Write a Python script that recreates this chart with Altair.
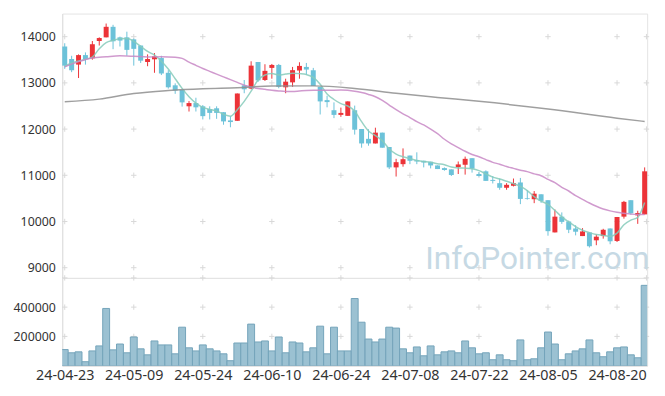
import altair as alt
import pandas as pd

# ---------------- data ----------------
dates = [
    "24-04-23", "24-04-24", "24-04-25", "24-04-26", "24-04-29", "24-04-30", "24-05-02", "24-05-03",
    "24-05-07", "24-05-08", "24-05-09", "24-05-10", "24-05-13", "24-05-14", "24-05-16", "24-05-17",
    "24-05-20", "24-05-21", "24-05-22", "24-05-23", "24-05-24", "24-05-27", "24-05-28", "24-05-29",
    "24-05-30", "24-05-31", "24-06-03", "24-06-04", "24-06-05", "24-06-07", "24-06-10", "24-06-11",
    "24-06-12", "24-06-13", "24-06-14", "24-06-17", "24-06-18", "24-06-19", "24-06-20", "24-06-21",
    "24-06-24", "24-06-25", "24-06-26", "24-06-27", "24-06-28", "24-07-01", "24-07-02", "24-07-03",
    "24-07-04", "24-07-05", "24-07-08", "24-07-09", "24-07-10", "24-07-11", "24-07-12", "24-07-15",
    "24-07-16", "24-07-17", "24-07-18", "24-07-19", "24-07-22", "24-07-23", "24-07-24", "24-07-25",
    "24-07-26", "24-07-29", "24-07-30", "24-07-31", "24-08-01", "24-08-02", "24-08-05", "24-08-06",
    "24-08-07", "24-08-08", "24-08-09", "24-08-12", "24-08-13", "24-08-14", "24-08-16", "24-08-19",
    "24-08-20", "24-08-21", "24-08-22", "24-08-23", "24-08-26",
]

opens = [
    13787, 13516, 13395, 13601, 13531, 13906, 13985, 14213, 13985, 13985,
    13942, 13808, 13452, 13510, 13537, 13218, 12947, 12849, 12493, 12563,
    12493, 12435, 12450, 12365, 12188, 12179, 12947, 12876, 13452, 13062,
    13324, 13388, 12904, 13011, 13267, 13345, 13275, 12913, 12627, 12408,
    12307, 12286, 12408, 12002, 11789, 11689, 11923, 11612, 11171, 11241,
    11427, 11327, 11314, 11292, 11213, 11156, 11128, 11177, 11228, 11370,
    11028, 11086, 10900, 10830, 10730, 10773, 10845, 10504, 10482, 10589,
    10461, 9764, 10105, 10000, 9849, 9685, 9764, 9593, 9685, 9849,
    9579, 10105, 10461, 10133, 10154,
]
highs = [
    13857, 13586, 13616, 13659, 13906, 13985, 14284, 14256, 14000, 14107,
    13960, 13808, 13616, 13644, 13586, 13275, 12990, 12849, 12606, 12678,
    12520, 12493, 12493, 12365, 12280, 12770, 13062, 13467, 13452, 13403,
    13409, 13409, 13090, 13345, 13446, 13431, 13324, 12913, 12721, 12578,
    12465, 12599, 12508, 12002, 11996, 12030, 11923, 11612, 11356, 11582,
    11427, 11497, 11314, 11292, 11213, 11170, 11128, 11299, 11405, 11370,
    11071, 11107, 10985, 10930, 10830, 10930, 10943, 10674, 10659, 10589,
    10461, 10260, 10197, 10020, 9920, 9856, 9764, 9721, 9842, 9849,
    10098, 10446, 10461, 10233, 11171,
]
lows = [
    13303, 13232, 13105, 13395, 13501, 13808, 13985, 13729, 13787, 13586,
    13373, 13431, 13360, 13218, 13169, 12876, 12763, 12486, 12380, 12380,
    12209, 12209, 12222, 12094, 12039, 12179, 12776, 12861, 13019, 13041,
    13090, 12883, 12776, 12913, 13090, 13175, 12934, 12316, 12471, 12237,
    12265, 12286, 11881, 11597, 11640, 11689, 11597, 11135, 10973, 11186,
    11241, 11241, 11171, 11149, 11135, 11100, 10985, 11028, 11015, 11058,
    10973, 10879, 10823, 10687, 10687, 10759, 10376, 10474, 10397, 10404,
    9693, 9764, 9949, 9749, 9700, 9685, 9437, 9487, 9629, 9508,
    9557, 10062, 10147, 9949, 10154,
]
closes = [
    13373, 13275, 13601, 13516, 13836, 13970, 14213, 13900, 13915, 13714,
    13736, 13480, 13516, 13574, 13203, 12904, 12834, 12578, 12563, 12471,
    12280, 12350, 12350, 12166, 12152, 12770, 12861, 13373, 13053, 13260,
    13388, 12913, 13026, 13275, 13367, 13288, 12934, 12599, 12584, 12307,
    12350, 12599, 11987, 11689, 11689, 11923, 11597, 11171, 11284, 11348,
    11314, 11299, 11277, 11213, 11135, 11114, 11007, 11235, 11356, 11143,
    10985, 10879, 10879, 10730, 10794, 10830, 10489, 10489, 10602, 10446,
    9791, 10105, 9992, 9821, 9779, 9785, 9465, 9672, 9821, 9572,
    10098, 10425, 10175, 10184, 11086,
]
volumes = [
    110000, 88000, 94500, 27000, 101000, 135000, 391000, 108000, 148000, 88000,
    196000, 115000, 74000, 169000, 142000, 142000, 81000, 263000, 122000, 101000,
    142000, 115000, 101000, 81000, 34000, 155000, 155000, 284000, 162000, 169000,
    101000, 196000, 88000, 162000, 155000, 94500, 122000, 270000, 81000, 263000,
    101000, 101000, 459000, 297000, 182000, 162000, 182000, 263000, 257000, 115000,
    88000, 128000, 67500, 135000, 74000, 94500, 101000, 88000, 169000, 122000,
    81000, 88000, 40500, 74000, 40500, 34000, 176000, 40500, 47000, 122000,
    230000, 148000, 40500, 81000, 101000, 115000, 176000, 88000, 61000, 94500,
    122000, 128000, 74000, 54000, 549000,
]

# moving averages (candle index, value)
ma5_idx = [0, 1, 3, 4, 5, 6, 7, 8, 9, 10, 11, 12, 13, 14, 15, 16, 17, 18, 19, 20,
           21, 22, 23, 24, 25, 26, 27, 28, 29, 30, 31, 32, 33, 34, 35, 36, 37, 38, 39, 40,
           41, 42, 43, 44, 45, 46, 47, 48, 49, 50, 51, 52, 53, 54, 55, 56, 57, 58, 59, 60,
           61, 62, 63, 64, 65, 66, 67, 68, 69, 70, 71, 72, 73, 74, 75, 76, 77, 78, 79, 80,
           81, 82, 83, 84]
ma5_val = [13360, 13431, 13510, 13560, 13740, 13870, 13920, 13955, 13960, 13900,
           13790, 13680, 13600, 13470, 13300, 13090, 12880, 12700, 12560, 12470,
           12425, 12390, 12320, 12280, 12420, 12600, 12820, 13060, 13170, 13203,
           13170, 13190, 13210, 13200, 13180, 13120, 12970, 12760, 12640, 12550,
           12500, 12390, 12160, 11960, 11860, 11750, 11570, 11460, 11400, 11360,
           11320, 11300, 11280, 11250, 11230, 11180, 11160, 11155, 11140, 11100,
           11030, 10960, 10920, 10870, 10820, 10760, 10670, 10540, 10440, 10370,
           10240, 10100, 9990, 9890, 9810, 9760, 9720, 9700, 9680, 9750,
           9930, 10030, 10090, 10410]

ma20_idx = [0, 2, 4, 6, 8, 10, 12, 14, 16, 17, 18, 19, 20, 21, 22, 23, 24, 25, 26, 27,
            28, 29, 30, 31, 32, 33, 34, 35, 36, 38, 40, 42, 43, 44, 45, 46, 47, 48, 49, 50,
            51, 52, 53, 54, 55, 56, 57, 58, 59, 60, 61, 62, 63, 64, 65, 66, 67, 68, 69, 70,
            71, 72, 73, 74, 75, 76, 77, 78, 79, 80, 81, 82, 83, 84]
ma20_val = [13345, 13460, 13540, 13565, 13585, 13575, 13560, 13565, 13555, 13530,
            13450, 13380, 13310, 13250, 13190, 13130, 13070, 13010, 12950, 12910,
            12880, 12860, 12840, 12825, 12815, 12815, 12825, 12835, 12840, 12840,
            12845, 12820, 12790, 12750, 12700, 12620, 12520, 12420, 12330, 12250,
            12160, 12090, 12000, 11900, 11780, 11680, 11600, 11520, 11450, 11400,
            11340, 11280, 11240, 11190, 11150, 11110, 11080, 11030, 10990, 10910,
            10840, 10740, 10660, 10560, 10480, 10400, 10330, 10270, 10230, 10200,
            10180, 10160, 10150, 10150]

ma120_idx = [0, 5, 10, 15, 20, 25, 30, 36, 42, 48, 54, 60, 70, 80, 84]
ma120_val = [12590, 12648, 12770, 12835, 12875, 12895, 12930, 12935, 12880, 12775,
             12685, 12600, 12435, 12235, 12165]

price_ticks = [9000, 10000, 11000, 12000, 13000, 14000]
volume_ticks = [200000, 400000]
label_idx = [0, 10, 20, 30, 40, 50, 60, 70, 80]
tick_labels = [dates[k] for k in label_idx]
cross_x = label_idx + [84.26]

# ---------------- styles ----------------
RED = "#ec3338"
BLUE = "#6cc2d9"
MA5_COLOR = "#86cbbb"
MA20_COLOR = "#c888c6"
MA120_COLOR = "#8e8e8e"
FONT = "Noto Sans"

X_DOMAIN = [-0.36, 84.36]
PRICE_DOMAIN = [8780, 14500]
VOL_DOMAIN = [0, 600000]
W = 593

df = pd.DataFrame({"i": list(range(len(dates))), "date": dates, "open": opens,
                   "high": highs, "low": lows, "close": closes, "vol": volumes})
df["dir"] = ["up" if c >= o else "down" for o, c in zip(opens, closes)]

ma_df = pd.concat([
    pd.DataFrame({"i": ma5_idx, "v": ma5_val, "ma": "MA5"}),
    pd.DataFrame({"i": ma20_idx, "v": ma20_val, "ma": "MA20"}),
    pd.DataFrame({"i": ma120_idx, "v": ma120_val, "ma": "MA120"}),
])

price_cross = pd.DataFrame([{"x": x, "y": y} for x in cross_x for y in price_ticks])
vol_cross = pd.DataFrame([{"x": x, "y": y} for x in cross_x for y in volume_ticks + [VOL_DOMAIN[1]]])

xscale = alt.Scale(domain=X_DOMAIN, nice=False, zero=False)
pscale = alt.Scale(domain=PRICE_DOMAIN, nice=False, zero=False)
vscale = alt.Scale(domain=VOL_DOMAIN, nice=False)

color = alt.Color("dir:N", scale=alt.Scale(domain=["up", "down"], range=[RED, BLUE]), legend=None)

price_axis = alt.Axis(values=price_ticks, format="d", title=None, grid=False, ticks=False,
                      labelPadding=7, labelFontSize=12.5, minExtent=52, maxExtent=52)
vol_y_axis = alt.Axis(values=volume_ticks, format="d", title=None, grid=False, ticks=False,
                      labelPadding=7, labelFontSize=12.5, minExtent=52, maxExtent=52)
label_expr = "[" + ",".join("'%s'" % s for s in tick_labels) + "][round(datum.value / 10)]"
vol_x_axis = alt.Axis(values=label_idx, labelExpr=label_expr, title=None, grid=False,
                      ticks=False, labelPadding=3, labelFontSize=14.5)

plus_shape = "M-1,0L1,0M0,-1L0,1"

# ---------------- price panel ----------------
p_cross = alt.Chart(price_cross).mark_point(
    shape=plus_shape, size=30, stroke="#d8d8d8", strokeWidth=1, filled=False, opacity=1
).encode(
    x=alt.X("x:Q", scale=xscale, axis=None),
    y=alt.Y("y:Q", scale=pscale, axis=price_axis),
)

watermark = alt.Chart(pd.DataFrame({"t": ["InfoPointer.com"]})).mark_text(
    font="Roboto", fontSize=32, color="#c6d9e4", align="left", baseline="alphabetic"
).encode(text="t:N", x=alt.value(368), y=alt.value(259))

base = alt.Chart(df)
wicks = base.mark_rule(strokeWidth=1).encode(
    x=alt.X("i:Q", scale=xscale, axis=None),
    y=alt.Y("low:Q", scale=pscale, axis=price_axis),
    y2="high:Q",
    color=color,
)
bodies = base.transform_calculate(
    x0="datum.i - 0.36", x1="datum.i + 0.36"
).mark_bar().encode(
    x=alt.X("x0:Q", scale=xscale, axis=None),
    x2="x1:Q",
    y=alt.Y("open:Q", scale=pscale, axis=price_axis),
    y2="close:Q",
    color=color,
)

ma_lines = alt.Chart(ma_df).mark_line(strokeWidth=1.5, interpolate="monotone", opacity=0.85).encode(
    x=alt.X("i:Q", scale=xscale, axis=None),
    y=alt.Y("v:Q", scale=pscale, axis=price_axis),
    color=alt.Color("ma:N", scale=alt.Scale(domain=["MA5", "MA20", "MA120"],
                                            range=[MA5_COLOR, MA20_COLOR, MA120_COLOR]), legend=None),
    detail="ma:N",
)

price = alt.layer(p_cross, watermark, wicks, bodies, ma_lines).resolve_scale(color="independent").properties(
    width=W, height=268
)

# ---------------- volume panel ----------------
v_cross = alt.Chart(vol_cross).mark_point(
    shape=plus_shape, size=30, stroke="#d8d8d8", strokeWidth=1, filled=False, opacity=1
).encode(
    x=alt.X("x:Q", scale=xscale, axis=vol_x_axis),
    y=alt.Y("y:Q", scale=vscale, axis=vol_y_axis),
)

vol_bars = base.transform_calculate(
    x0="datum.i - 0.5", x1="datum.i + 0.5", zero="0"
).mark_bar(fill="#9bc1d2", stroke="#74a4ba", strokeWidth=1, clip=True).encode(
    x=alt.X("x0:Q", scale=xscale, axis=vol_x_axis),
    x2="x1:Q",
    y=alt.Y("vol:Q", scale=vscale, axis=vol_y_axis),
    y2="zero:Q",
)

volume = alt.layer(v_cross, vol_bars).properties(width=W, height=89)

chart = alt.vconcat(price, volume, spacing=0, bounds="flush").properties(
    padding={"left": 2, "top": 2, "right": 5, "bottom": 2}
).configure_view(
    stroke="#e4e4e4"
).configure_axis(
    labelFont=FONT, labelColor="#333333", domainColor="#dedede", domainWidth=1
)

chart.save("out.html", embed_options={"renderer": "svg", "actions": False})
